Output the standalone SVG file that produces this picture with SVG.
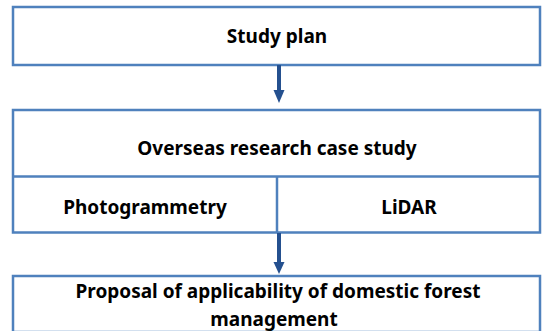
<svg xmlns="http://www.w3.org/2000/svg" width="542" height="331" viewBox="0 0 542 331">
<style>
.box{fill:#ffffff;stroke:#4F81BD;stroke-width:2.5}
.div{stroke:#4F81BD;stroke-width:2.5}
.t{font-family:"Noto Sans","Liberation Sans",sans-serif;font-weight:bold;font-size:19px;fill:#000;text-anchor:middle}
.conn{stroke:#24508F;stroke-width:4;fill:none}
.head{fill:#24508F}
</style>
<rect width="542" height="331" fill="#ffffff"/>
<g id="study-plan">
<rect class="box" x="13" y="7" width="527" height="58"/>
<text class="t" x="277" y="43">Study plan</text>
</g>
<g id="overseas">
<rect class="box" x="13" y="110" width="527" height="122.5"/>
<line class="div" x1="13" y1="176.5" x2="540" y2="176.5"/>
<text class="t" x="277" y="155">Overseas research case study</text>
</g>
<g id="photogrammetry">
<line class="div" x1="277" y1="176.5" x2="277" y2="232.5"/>
<text class="t" x="145" y="214">Photogrammetry</text>
</g>
<g id="lidar">
<text class="t" x="409" y="214">LiDAR</text>
</g>
<g id="proposal">
<rect class="box" x="13" y="276" width="527" height="56"/>
<text class="t" x="278" y="298">Proposal of applicability of domestic forest</text>
<text class="t" x="274" y="326">management</text>
</g>
<g id="connectors">
<line class="conn" x1="279" y1="65" x2="279" y2="92"/>
<polygon class="head" points="273.5,90 284.5,90 279,103"/>
<line class="conn" x1="279" y1="233" x2="279" y2="264"/>
<polygon class="head" points="273.5,262 284.5,262 279,274"/>
</g>
</svg>
